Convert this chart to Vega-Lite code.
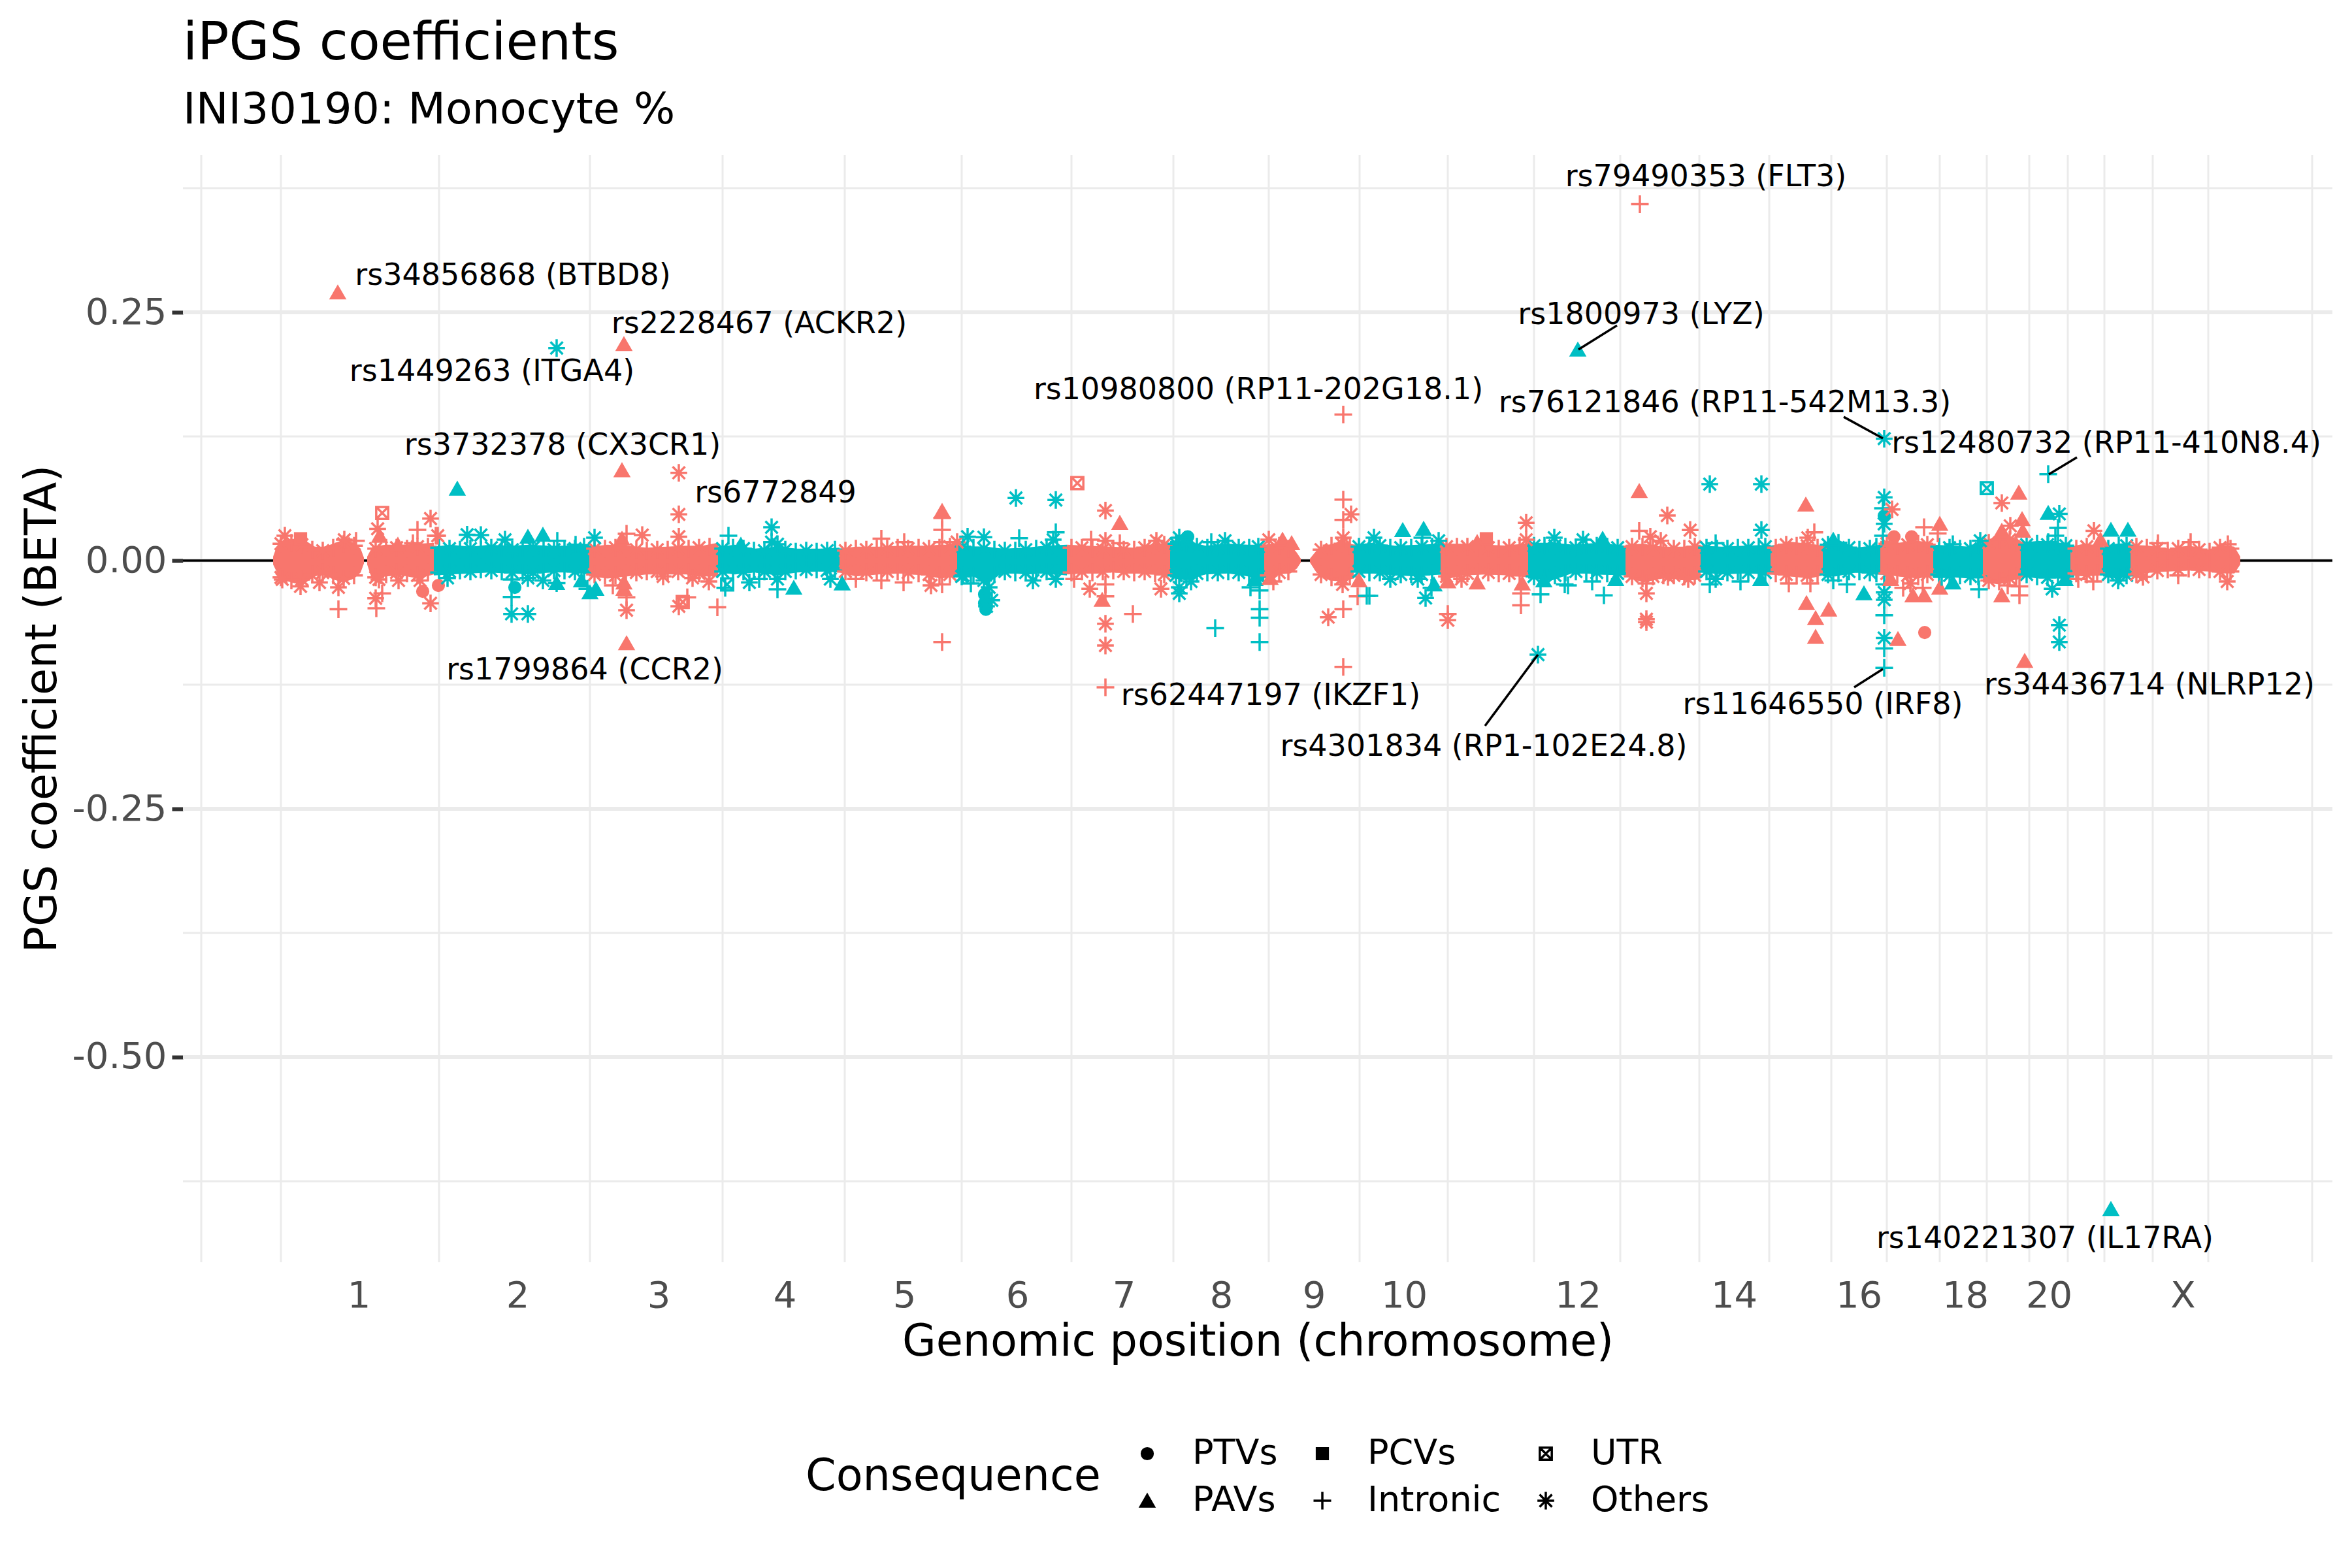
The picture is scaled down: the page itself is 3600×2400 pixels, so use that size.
{"$schema":"https://vega.github.io/schema/vega-lite/v6.json","width":3290,"height":1695,"autosize":"none","padding":{"left":280,"top":237,"right":30,"bottom":468},"background":"white",
"title":{"text":"iPGS coefficients","subtitle":"INI30190: Monocyte %","anchor":"start","frame":"group","font":"DejaVu Sans","fontSize":80,"fontWeight":"normal","color":"black","subtitleFont":"DejaVu Sans","subtitleFontSize":66.6,"subtitleColor":"black","subtitlePadding":28,"offset":32},
"config":{"view":{"stroke":null},"font":"DejaVu Sans"},
"datasets":{
"vgrid":[{"pos":308},{"pos":430},{"pos":672},{"pos":903},{"pos":1106},{"pos":1293},{"pos":1472},{"pos":1640},{"pos":1796},{"pos":1942},{"pos":2081},{"pos":2216},{"pos":2348},{"pos":2480},{"pos":2601},{"pos":2708},{"pos":2803},{"pos":2888},{"pos":2969},{"pos":3041},{"pos":3106},{"pos":3165},{"pos":3221},{"pos":3295},{"pos":3380},{"pos":3539}],
"hgrid":[{"beta":0.375,"kind":"minor"},{"beta":0.25,"kind":"major"},{"beta":0.125,"kind":"minor"},{"beta":0,"kind":"major"},{"beta":-0.125,"kind":"minor"},{"beta":-0.25,"kind":"major"},{"beta":-0.375,"kind":"minor"},{"beta":-0.5,"kind":"major"},{"beta":-0.625,"kind":"minor"}],
"band":[
{"pos":418,"hi":0.004,"lo":-0.004,"seg":"1a","grp":"a"},{"pos":424,"hi":0.015,"lo":-0.012,"seg":"1a","grp":"a"},{"pos":436,"hi":0.021,"lo":-0.02,"seg":"1a","grp":"a"},{"pos":452,"hi":0.022,"lo":-0.023,"seg":"1a","grp":"a"},{"pos":468,"hi":0.02,"lo":-0.022,"seg":"1a","grp":"a"},{"pos":482,"hi":0.014,"lo":-0.016,"seg":"1a","grp":"a"},{"pos":496,"hi":0.014,"lo":-0.014,"seg":"1a","grp":"a"},{"pos":510,"hi":0.017,"lo":-0.019,"seg":"1a","grp":"a"},{"pos":526,"hi":0.021,"lo":-0.022,"seg":"1a","grp":"a"},{"pos":542,"hi":0.018,"lo":-0.018,"seg":"1a","grp":"a"},{"pos":552,"hi":0.012,"lo":-0.012,"seg":"1a","grp":"a"},{"pos":557,"hi":0.003,"lo":-0.003,"seg":"1a","grp":"a"},
{"pos":562,"hi":0.004,"lo":-0.004,"seg":"1b","grp":"a"},{"pos":570,"hi":0.014,"lo":-0.02,"seg":"1b","grp":"a"},{"pos":590,"hi":0.016,"lo":-0.016,"seg":"1b","grp":"a"},{"pos":615,"hi":0.016,"lo":-0.015,"seg":"1b","grp":"a"},{"pos":640,"hi":0.017,"lo":-0.018,"seg":"1b","grp":"a"},{"pos":664,"hi":0.018,"lo":-0.014,"seg":"1b","grp":"a"},
{"pos":664,"hi":0.014,"lo":-0.015,"seg":"2","grp":"b"},{"pos":690,"hi":0.016,"lo":-0.014,"seg":"2","grp":"b"},{"pos":720,"hi":0.014,"lo":-0.013,"seg":"2","grp":"b"},{"pos":750,"hi":0.016,"lo":-0.012,"seg":"2","grp":"b"},{"pos":780,"hi":0.015,"lo":-0.013,"seg":"2","grp":"b"},{"pos":810,"hi":0.016,"lo":-0.014,"seg":"2","grp":"b"},{"pos":840,"hi":0.015,"lo":-0.012,"seg":"2","grp":"b"},{"pos":870,"hi":0.015,"lo":-0.012,"seg":"2","grp":"b"},{"pos":902,"hi":0.017,"lo":-0.014,"seg":"2","grp":"b"},
{"pos":902,"hi":0.014,"lo":-0.016,"seg":"3","grp":"a"},{"pos":930,"hi":0.016,"lo":-0.018,"seg":"3","grp":"a"},{"pos":960,"hi":0.015,"lo":-0.016,"seg":"3","grp":"a"},{"pos":990,"hi":0.013,"lo":-0.014,"seg":"3","grp":"a"},{"pos":1020,"hi":0.014,"lo":-0.014,"seg":"3","grp":"a"},{"pos":1050,"hi":0.015,"lo":-0.014,"seg":"3","grp":"a"},{"pos":1075,"hi":0.015,"lo":-0.016,"seg":"3","grp":"a"},{"pos":1099,"hi":0.018,"lo":-0.016,"seg":"3","grp":"a"},
{"pos":1099,"hi":0.014,"lo":-0.012,"seg":"4","grp":"b"},{"pos":1125,"hi":0.016,"lo":-0.014,"seg":"4","grp":"b"},{"pos":1155,"hi":0.012,"lo":-0.012,"seg":"4","grp":"b"},{"pos":1190,"hi":0.014,"lo":-0.015,"seg":"4","grp":"b"},{"pos":1220,"hi":0.012,"lo":-0.012,"seg":"4","grp":"b"},{"pos":1255,"hi":0.012,"lo":-0.011,"seg":"4","grp":"b"},{"pos":1285,"hi":0.013,"lo":-0.012,"seg":"4","grp":"b"},
{"pos":1285,"hi":0.012,"lo":-0.012,"seg":"5","grp":"a"},{"pos":1310,"hi":0.014,"lo":-0.016,"seg":"5","grp":"a"},{"pos":1345,"hi":0.014,"lo":-0.014,"seg":"5","grp":"a"},{"pos":1380,"hi":0.015,"lo":-0.013,"seg":"5","grp":"a"},{"pos":1415,"hi":0.015,"lo":-0.015,"seg":"5","grp":"a"},{"pos":1440,"hi":0.016,"lo":-0.018,"seg":"5","grp":"a"},{"pos":1465,"hi":0.016,"lo":-0.016,"seg":"5","grp":"a"},
{"pos":1465,"hi":0.016,"lo":-0.016,"seg":"6","grp":"b"},{"pos":1490,"hi":0.014,"lo":-0.016,"seg":"6","grp":"b"},{"pos":1510,"hi":0.014,"lo":-0.024,"seg":"6","grp":"b"},{"pos":1535,"hi":0.012,"lo":-0.012,"seg":"6","grp":"b"},{"pos":1570,"hi":0.013,"lo":-0.014,"seg":"6","grp":"b"},{"pos":1600,"hi":0.015,"lo":-0.013,"seg":"6","grp":"b"},{"pos":1633,"hi":0.016,"lo":-0.015,"seg":"6","grp":"b"},
{"pos":1633,"hi":0.016,"lo":-0.014,"seg":"7","grp":"a"},{"pos":1665,"hi":0.015,"lo":-0.013,"seg":"7","grp":"a"},{"pos":1700,"hi":0.014,"lo":-0.012,"seg":"7","grp":"a"},{"pos":1735,"hi":0.013,"lo":-0.013,"seg":"7","grp":"a"},{"pos":1765,"hi":0.016,"lo":-0.014,"seg":"7","grp":"a"},{"pos":1791,"hi":0.018,"lo":-0.016,"seg":"7","grp":"a"},
{"pos":1791,"hi":0.02,"lo":-0.017,"seg":"8","grp":"b"},{"pos":1815,"hi":0.02,"lo":-0.02,"seg":"8","grp":"b"},{"pos":1845,"hi":0.015,"lo":-0.014,"seg":"8","grp":"b"},{"pos":1880,"hi":0.017,"lo":-0.013,"seg":"8","grp":"b"},{"pos":1910,"hi":0.016,"lo":-0.016,"seg":"8","grp":"b"},{"pos":1935,"hi":0.016,"lo":-0.022,"seg":"8","grp":"b"},
{"pos":1935,"hi":0.016,"lo":-0.018,"seg":"9a","grp":"a"},{"pos":1955,"hi":0.018,"lo":-0.014,"seg":"9a","grp":"a"},{"pos":1975,"hi":0.016,"lo":-0.013,"seg":"9a","grp":"a"},{"pos":1985,"hi":0.008,"lo":-0.008,"seg":"9a","grp":"a"},{"pos":1991,"hi":0.002,"lo":-0.002,"seg":"9a","grp":"a"},
{"pos":2005,"hi":0.002,"lo":-0.002,"seg":"9b","grp":"a"},{"pos":2015,"hi":0.01,"lo":-0.012,"seg":"9b","grp":"a"},{"pos":2035,"hi":0.016,"lo":-0.02,"seg":"9b","grp":"a"},{"pos":2055,"hi":0.02,"lo":-0.021,"seg":"9b","grp":"a"},{"pos":2072,"hi":0.016,"lo":-0.018,"seg":"9b","grp":"a"},
{"pos":2072,"hi":0.016,"lo":-0.012,"seg":"10","grp":"b"},{"pos":2100,"hi":0.018,"lo":-0.013,"seg":"10","grp":"b"},{"pos":2135,"hi":0.015,"lo":-0.015,"seg":"10","grp":"b"},{"pos":2170,"hi":0.016,"lo":-0.016,"seg":"10","grp":"b"},{"pos":2205,"hi":0.017,"lo":-0.014,"seg":"10","grp":"b"},
{"pos":2205,"hi":0.017,"lo":-0.02,"seg":"11","grp":"a"},{"pos":2240,"hi":0.017,"lo":-0.015,"seg":"11","grp":"a"},{"pos":2275,"hi":0.016,"lo":-0.014,"seg":"11","grp":"a"},{"pos":2310,"hi":0.015,"lo":-0.015,"seg":"11","grp":"a"},{"pos":2339,"hi":0.018,"lo":-0.017,"seg":"11","grp":"a"},
{"pos":2339,"hi":0.018,"lo":-0.018,"seg":"12","grp":"b"},{"pos":2375,"hi":0.018,"lo":-0.02,"seg":"12","grp":"b"},{"pos":2410,"hi":0.016,"lo":-0.012,"seg":"12","grp":"b"},{"pos":2445,"hi":0.018,"lo":-0.014,"seg":"12","grp":"b"},{"pos":2488,"hi":0.015,"lo":-0.015,"seg":"12","grp":"b"},
{"pos":2488,"hi":0.016,"lo":-0.016,"seg":"13","grp":"a"},{"pos":2515,"hi":0.017,"lo":-0.022,"seg":"13","grp":"a"},{"pos":2545,"hi":0.014,"lo":-0.018,"seg":"13","grp":"a"},{"pos":2575,"hi":0.014,"lo":-0.019,"seg":"13","grp":"a"},{"pos":2603,"hi":0.016,"lo":-0.018,"seg":"13","grp":"a"},
{"pos":2603,"hi":0.015,"lo":-0.012,"seg":"14","grp":"b"},{"pos":2635,"hi":0.014,"lo":-0.014,"seg":"14","grp":"b"},{"pos":2670,"hi":0.015,"lo":-0.013,"seg":"14","grp":"b"},{"pos":2710,"hi":0.016,"lo":-0.014,"seg":"14","grp":"b"},
{"pos":2710,"hi":0.015,"lo":-0.014,"seg":"15","grp":"a"},{"pos":2740,"hi":0.019,"lo":-0.016,"seg":"15","grp":"a"},{"pos":2770,"hi":0.017,"lo":-0.018,"seg":"15","grp":"a"},{"pos":2790,"hi":0.015,"lo":-0.015,"seg":"15","grp":"a"},
{"pos":2790,"hi":0.018,"lo":-0.016,"seg":"16","grp":"b"},{"pos":2810,"hi":0.022,"lo":-0.016,"seg":"16","grp":"b"},{"pos":2840,"hi":0.013,"lo":-0.012,"seg":"16","grp":"b"},{"pos":2878,"hi":0.016,"lo":-0.014,"seg":"16","grp":"b"},
{"pos":2878,"hi":0.02,"lo":-0.014,"seg":"17","grp":"a"},{"pos":2905,"hi":0.018,"lo":-0.016,"seg":"17","grp":"a"},{"pos":2935,"hi":0.02,"lo":-0.018,"seg":"17","grp":"a"},{"pos":2959,"hi":0.018,"lo":-0.016,"seg":"17","grp":"a"},
{"pos":2959,"hi":0.016,"lo":-0.016,"seg":"18","grp":"b"},{"pos":2990,"hi":0.015,"lo":-0.017,"seg":"18","grp":"b"},{"pos":3015,"hi":0.014,"lo":-0.018,"seg":"18","grp":"b"},{"pos":3035,"hi":0.017,"lo":-0.018,"seg":"18","grp":"b"},
{"pos":3035,"hi":0.02,"lo":-0.022,"seg":"19","grp":"a"},{"pos":3060,"hi":0.024,"lo":-0.024,"seg":"19","grp":"a"},{"pos":3080,"hi":0.024,"lo":-0.02,"seg":"19","grp":"a"},{"pos":3093,"hi":0.02,"lo":-0.018,"seg":"19","grp":"a"},
{"pos":3093,"hi":0.018,"lo":-0.016,"seg":"20","grp":"b"},{"pos":3120,"hi":0.02,"lo":-0.018,"seg":"20","grp":"b"},{"pos":3150,"hi":0.018,"lo":-0.018,"seg":"20","grp":"b"},{"pos":3169,"hi":0.018,"lo":-0.019,"seg":"20","grp":"b"},
{"pos":3169,"hi":0.014,"lo":-0.015,"seg":"21","grp":"a"},{"pos":3190,"hi":0.017,"lo":-0.016,"seg":"21","grp":"a"},{"pos":3219,"hi":0.015,"lo":-0.015,"seg":"21","grp":"a"},
{"pos":3219,"hi":0.014,"lo":-0.016,"seg":"22","grp":"b"},{"pos":3240,"hi":0.017,"lo":-0.018,"seg":"22","grp":"b"},{"pos":3261,"hi":0.018,"lo":-0.016,"seg":"22","grp":"b"},
{"pos":3261,"hi":0.016,"lo":-0.016,"seg":"X","grp":"a"},{"pos":3290,"hi":0.015,"lo":-0.012,"seg":"X","grp":"a"},{"pos":3320,"hi":0.012,"lo":-0.011,"seg":"X","grp":"a"},{"pos":3350,"hi":0.015,"lo":-0.01,"seg":"X","grp":"a"},{"pos":3380,"hi":0.011,"lo":-0.011,"seg":"X","grp":"a"},{"pos":3400,"hi":0.016,"lo":-0.013,"seg":"X","grp":"a"},{"pos":3420,"hi":0.014,"lo":-0.013,"seg":"X","grp":"a"},{"pos":3429,"hi":0.004,"lo":-0.004,"seg":"X","grp":"a"}],
"edge":[
{"pos":430,"up":0.017,"dn":-0.017,"grp":"a","cons":"Others"},{"pos":446,"up":0.018,"dn":-0.02,"grp":"a","cons":"Intronic"},{"pos":462,"up":0.016,"dn":-0.019,"grp":"a","cons":"Others"},{"pos":478,"up":0.011,"dn":-0.014,"grp":"a","cons":"Intronic"},{"pos":494,"up":0.01,"dn":-0.012,"grp":"a","cons":"Others"},{"pos":510,"up":0.013,"dn":-0.015,"grp":"a","cons":"Intronic"},{"pos":526,"up":0.017,"dn":-0.018,"grp":"a","cons":"Others"},{"pos":542,"up":0.015,"dn":-0.015,"grp":"a","cons":"Intronic"},
{"pos":575,"up":0.012,"dn":-0.017,"grp":"a","cons":"Others"},{"pos":591,"up":0.013,"dn":-0.014,"grp":"a","cons":"Intronic"},{"pos":607,"up":0.013,"dn":-0.012,"grp":"a","cons":"Others"},{"pos":623,"up":0.012,"dn":-0.013,"grp":"a","cons":"Intronic"},{"pos":639,"up":0.014,"dn":-0.015,"grp":"a","cons":"Others"},{"pos":655,"up":0.014,"dn":-0.012,"grp":"a","cons":"Intronic"},
{"pos":672,"up":0.013,"dn":-0.012,"grp":"b","cons":"Intronic"},{"pos":688,"up":0.012,"dn":-0.011,"grp":"b","cons":"Others"},{"pos":704,"up":0.011,"dn":-0.01,"grp":"b","cons":"Intronic"},{"pos":720,"up":0.012,"dn":-0.011,"grp":"b","cons":"Others"},{"pos":736,"up":0.011,"dn":-0.009,"grp":"b","cons":"Intronic"},{"pos":752,"up":0.013,"dn":-0.01,"grp":"b","cons":"Others"},{"pos":768,"up":0.012,"dn":-0.011,"grp":"b","cons":"Intronic"},{"pos":784,"up":0.011,"dn":-0.012,"grp":"b","cons":"Others"},{"pos":800,"up":0.012,"dn":-0.012,"grp":"b","cons":"Intronic"},{"pos":816,"up":0.013,"dn":-0.012,"grp":"b","cons":"Others"},{"pos":832,"up":0.012,"dn":-0.011,"grp":"b","cons":"Intronic"},{"pos":848,"up":0.011,"dn":-0.01,"grp":"b","cons":"Others"},{"pos":864,"up":0.012,"dn":-0.01,"grp":"b","cons":"Intronic"},{"pos":880,"up":0.012,"dn":-0.011,"grp":"b","cons":"Others"},{"pos":894,"up":0.014,"dn":-0.012,"grp":"b","cons":"Intronic"},
{"pos":910,"up":0.012,"dn":-0.014,"grp":"a","cons":"Others"},{"pos":926,"up":0.012,"dn":-0.015,"grp":"a","cons":"Intronic"},{"pos":942,"up":0.013,"dn":-0.015,"grp":"a","cons":"Others"},{"pos":958,"up":0.012,"dn":-0.013,"grp":"a","cons":"Intronic"},{"pos":974,"up":0.011,"dn":-0.012,"grp":"a","cons":"Others"},{"pos":990,"up":0.01,"dn":-0.011,"grp":"a","cons":"Intronic"},{"pos":1006,"up":0.011,"dn":-0.011,"grp":"a","cons":"Others"},{"pos":1022,"up":0.011,"dn":-0.012,"grp":"a","cons":"Intronic"},{"pos":1038,"up":0.012,"dn":-0.011,"grp":"a","cons":"Others"},{"pos":1054,"up":0.012,"dn":-0.012,"grp":"a","cons":"Intronic"},{"pos":1070,"up":0.013,"dn":-0.013,"grp":"a","cons":"Others"},{"pos":1086,"up":0.014,"dn":-0.014,"grp":"a","cons":"Intronic"},
{"pos":1106,"up":0.012,"dn":-0.011,"grp":"b","cons":"Others"},{"pos":1122,"up":0.013,"dn":-0.012,"grp":"b","cons":"Intronic"},{"pos":1138,"up":0.012,"dn":-0.011,"grp":"b","cons":"Others"},{"pos":1154,"up":0.01,"dn":-0.01,"grp":"b","cons":"Intronic"},{"pos":1170,"up":0.01,"dn":-0.011,"grp":"b","cons":"Others"},{"pos":1186,"up":0.012,"dn":-0.012,"grp":"b","cons":"Intronic"},{"pos":1202,"up":0.011,"dn":-0.011,"grp":"b","cons":"Others"},{"pos":1218,"up":0.009,"dn":-0.01,"grp":"b","cons":"Intronic"},{"pos":1234,"up":0.01,"dn":-0.009,"grp":"b","cons":"Others"},{"pos":1250,"up":0.009,"dn":-0.009,"grp":"b","cons":"Intronic"},{"pos":1266,"up":0.01,"dn":-0.01,"grp":"b","cons":"Others"},{"pos":1278,"up":0.011,"dn":-0.01,"grp":"b","cons":"Intronic"},
{"pos":1294,"up":0.01,"dn":-0.011,"grp":"a","cons":"Others"},{"pos":1310,"up":0.012,"dn":-0.013,"grp":"a","cons":"Intronic"},{"pos":1326,"up":0.011,"dn":-0.012,"grp":"a","cons":"Others"},{"pos":1342,"up":0.012,"dn":-0.012,"grp":"a","cons":"Intronic"},{"pos":1358,"up":0.012,"dn":-0.011,"grp":"a","cons":"Others"},{"pos":1374,"up":0.013,"dn":-0.011,"grp":"a","cons":"Intronic"},{"pos":1390,"up":0.012,"dn":-0.012,"grp":"a","cons":"Others"},{"pos":1406,"up":0.013,"dn":-0.013,"grp":"a","cons":"Intronic"},{"pos":1422,"up":0.012,"dn":-0.014,"grp":"a","cons":"Others"},{"pos":1438,"up":0.013,"dn":-0.015,"grp":"a","cons":"Intronic"},{"pos":1454,"up":0.014,"dn":-0.014,"grp":"a","cons":"Others"},
{"pos":1474,"up":0.014,"dn":-0.015,"grp":"b","cons":"Others"},{"pos":1490,"up":0.013,"dn":-0.015,"grp":"b","cons":"Intronic"},{"pos":1506,"up":0.012,"dn":-0.02,"grp":"b","cons":"Others"},{"pos":1522,"up":0.011,"dn":-0.014,"grp":"b","cons":"Intronic"},{"pos":1538,"up":0.01,"dn":-0.011,"grp":"b","cons":"Others"},{"pos":1554,"up":0.01,"dn":-0.012,"grp":"b","cons":"Intronic"},{"pos":1570,"up":0.011,"dn":-0.012,"grp":"b","cons":"Others"},{"pos":1586,"up":0.012,"dn":-0.012,"grp":"b","cons":"Intronic"},{"pos":1602,"up":0.013,"dn":-0.011,"grp":"b","cons":"Others"},{"pos":1618,"up":0.013,"dn":-0.013,"grp":"b","cons":"Intronic"},
{"pos":1640,"up":0.013,"dn":-0.012,"grp":"a","cons":"Intronic"},{"pos":1656,"up":0.013,"dn":-0.011,"grp":"a","cons":"Others"},{"pos":1672,"up":0.012,"dn":-0.012,"grp":"a","cons":"Intronic"},{"pos":1688,"up":0.011,"dn":-0.011,"grp":"a","cons":"Others"},{"pos":1704,"up":0.012,"dn":-0.01,"grp":"a","cons":"Intronic"},{"pos":1720,"up":0.011,"dn":-0.011,"grp":"a","cons":"Others"},{"pos":1736,"up":0.011,"dn":-0.012,"grp":"a","cons":"Intronic"},{"pos":1752,"up":0.013,"dn":-0.011,"grp":"a","cons":"Others"},{"pos":1768,"up":0.015,"dn":-0.013,"grp":"a","cons":"Intronic"},{"pos":1782,"up":0.016,"dn":-0.014,"grp":"a","cons":"Others"},
{"pos":1800,"up":0.017,"dn":-0.015,"grp":"b","cons":"Others"},{"pos":1816,"up":0.017,"dn":-0.017,"grp":"b","cons":"Intronic"},{"pos":1832,"up":0.014,"dn":-0.013,"grp":"b","cons":"Others"},{"pos":1848,"up":0.013,"dn":-0.012,"grp":"b","cons":"Intronic"},{"pos":1864,"up":0.013,"dn":-0.012,"grp":"b","cons":"Others"},{"pos":1880,"up":0.014,"dn":-0.011,"grp":"b","cons":"Intronic"},{"pos":1896,"up":0.013,"dn":-0.012,"grp":"b","cons":"Others"},{"pos":1912,"up":0.013,"dn":-0.014,"grp":"b","cons":"Intronic"},{"pos":1926,"up":0.014,"dn":-0.016,"grp":"b","cons":"Others"},
{"pos":1942,"up":0.014,"dn":-0.015,"grp":"a","cons":"Intronic"},{"pos":1958,"up":0.015,"dn":-0.012,"grp":"a","cons":"Others"},{"pos":1972,"up":0.012,"dn":-0.011,"grp":"a","cons":"Intronic"},
{"pos":2022,"up":0.011,"dn":-0.014,"grp":"a","cons":"Others"},{"pos":2038,"up":0.015,"dn":-0.017,"grp":"a","cons":"Intronic"},{"pos":2054,"up":0.017,"dn":-0.018,"grp":"a","cons":"Others"},{"pos":2066,"up":0.015,"dn":-0.016,"grp":"a","cons":"Intronic"},
{"pos":2080,"up":0.014,"dn":-0.011,"grp":"b","cons":"Others"},{"pos":2096,"up":0.015,"dn":-0.012,"grp":"b","cons":"Intronic"},{"pos":2112,"up":0.015,"dn":-0.012,"grp":"b","cons":"Others"},{"pos":2128,"up":0.013,"dn":-0.013,"grp":"b","cons":"Intronic"},{"pos":2144,"up":0.013,"dn":-0.014,"grp":"b","cons":"Others"},{"pos":2160,"up":0.013,"dn":-0.014,"grp":"b","cons":"Intronic"},{"pos":2176,"up":0.014,"dn":-0.014,"grp":"b","cons":"Others"},{"pos":2192,"up":0.014,"dn":-0.013,"grp":"b","cons":"Intronic"},
{"pos":2214,"up":0.014,"dn":-0.016,"grp":"a","cons":"Others"},{"pos":2230,"up":0.014,"dn":-0.014,"grp":"a","cons":"Intronic"},{"pos":2246,"up":0.014,"dn":-0.013,"grp":"a","cons":"Others"},{"pos":2262,"up":0.013,"dn":-0.012,"grp":"a","cons":"Intronic"},{"pos":2278,"up":0.013,"dn":-0.012,"grp":"a","cons":"Others"},{"pos":2294,"up":0.012,"dn":-0.013,"grp":"a","cons":"Intronic"},{"pos":2310,"up":0.013,"dn":-0.013,"grp":"a","cons":"Others"},{"pos":2326,"up":0.015,"dn":-0.015,"grp":"a","cons":"Intronic"},
{"pos":2348,"up":0.015,"dn":-0.016,"grp":"b","cons":"Others"},{"pos":2364,"up":0.015,"dn":-0.017,"grp":"b","cons":"Intronic"},{"pos":2380,"up":0.015,"dn":-0.015,"grp":"b","cons":"Others"},{"pos":2396,"up":0.014,"dn":-0.012,"grp":"b","cons":"Intronic"},{"pos":2412,"up":0.013,"dn":-0.011,"grp":"b","cons":"Others"},{"pos":2428,"up":0.015,"dn":-0.012,"grp":"b","cons":"Intronic"},{"pos":2444,"up":0.015,"dn":-0.012,"grp":"b","cons":"Others"},{"pos":2460,"up":0.014,"dn":-0.013,"grp":"b","cons":"Intronic"},{"pos":2476,"up":0.013,"dn":-0.013,"grp":"b","cons":"Others"},
{"pos":2498,"up":0.014,"dn":-0.016,"grp":"a","cons":"Others"},{"pos":2514,"up":0.014,"dn":-0.018,"grp":"a","cons":"Intronic"},{"pos":2530,"up":0.013,"dn":-0.016,"grp":"a","cons":"Others"},{"pos":2546,"up":0.012,"dn":-0.015,"grp":"a","cons":"Intronic"},{"pos":2562,"up":0.012,"dn":-0.015,"grp":"a","cons":"Others"},{"pos":2578,"up":0.012,"dn":-0.016,"grp":"a","cons":"Intronic"},{"pos":2594,"up":0.014,"dn":-0.015,"grp":"a","cons":"Others"},
{"pos":2612,"up":0.013,"dn":-0.011,"grp":"b","cons":"Others"},{"pos":2628,"up":0.012,"dn":-0.012,"grp":"b","cons":"Intronic"},{"pos":2644,"up":0.012,"dn":-0.012,"grp":"b","cons":"Others"},{"pos":2660,"up":0.013,"dn":-0.011,"grp":"b","cons":"Intronic"},{"pos":2676,"up":0.013,"dn":-0.012,"grp":"b","cons":"Others"},{"pos":2692,"up":0.014,"dn":-0.012,"grp":"b","cons":"Intronic"},{"pos":2702,"up":0.014,"dn":-0.012,"grp":"b","cons":"Others"},
{"pos":2718,"up":0.013,"dn":-0.013,"grp":"a","cons":"Intronic"},{"pos":2734,"up":0.016,"dn":-0.014,"grp":"a","cons":"Others"},{"pos":2750,"up":0.015,"dn":-0.015,"grp":"a","cons":"Intronic"},{"pos":2766,"up":0.015,"dn":-0.015,"grp":"a","cons":"Others"},{"pos":2782,"up":0.013,"dn":-0.014,"grp":"a","cons":"Intronic"},
{"pos":2798,"up":0.016,"dn":-0.014,"grp":"b","cons":"Others"},{"pos":2814,"up":0.018,"dn":-0.013,"grp":"b","cons":"Intronic"},{"pos":2830,"up":0.013,"dn":-0.011,"grp":"b","cons":"Others"},{"pos":2846,"up":0.011,"dn":-0.011,"grp":"b","cons":"Intronic"},{"pos":2862,"up":0.012,"dn":-0.012,"grp":"b","cons":"Others"},{"pos":2872,"up":0.014,"dn":-0.013,"grp":"b","cons":"Intronic"},
{"pos":2888,"up":0.017,"dn":-0.013,"grp":"a","cons":"Others"},{"pos":2904,"up":0.015,"dn":-0.014,"grp":"a","cons":"Intronic"},{"pos":2920,"up":0.016,"dn":-0.015,"grp":"a","cons":"Others"},{"pos":2936,"up":0.017,"dn":-0.016,"grp":"a","cons":"Intronic"},{"pos":2950,"up":0.016,"dn":-0.014,"grp":"a","cons":"Others"},
{"pos":2968,"up":0.014,"dn":-0.014,"grp":"b","cons":"Intronic"},{"pos":2984,"up":0.013,"dn":-0.015,"grp":"b","cons":"Others"},{"pos":3000,"up":0.012,"dn":-0.015,"grp":"b","cons":"Intronic"},{"pos":3016,"up":0.012,"dn":-0.016,"grp":"b","cons":"Others"},{"pos":3028,"up":0.015,"dn":-0.016,"grp":"b","cons":"Intronic"},
{"pos":3044,"up":0.018,"dn":-0.02,"grp":"a","cons":"Others"},{"pos":3060,"up":0.021,"dn":-0.021,"grp":"a","cons":"Intronic"},{"pos":3076,"up":0.021,"dn":-0.018,"grp":"a","cons":"Others"},{"pos":3086,"up":0.018,"dn":-0.016,"grp":"a","cons":"Intronic"},
{"pos":3102,"up":0.016,"dn":-0.014,"grp":"b","cons":"Others"},{"pos":3118,"up":0.017,"dn":-0.016,"grp":"b","cons":"Intronic"},{"pos":3134,"up":0.016,"dn":-0.017,"grp":"b","cons":"Others"},{"pos":3150,"up":0.015,"dn":-0.016,"grp":"b","cons":"Intronic"},{"pos":3162,"up":0.015,"dn":-0.016,"grp":"b","cons":"Others"},
{"pos":3178,"up":0.012,"dn":-0.013,"grp":"a","cons":"Intronic"},{"pos":3194,"up":0.014,"dn":-0.014,"grp":"a","cons":"Others"},{"pos":3210,"up":0.013,"dn":-0.013,"grp":"a","cons":"Intronic"},
{"pos":3227,"up":0.012,"dn":-0.014,"grp":"b","cons":"Others"},{"pos":3243,"up":0.015,"dn":-0.016,"grp":"b","cons":"Intronic"},{"pos":3255,"up":0.015,"dn":-0.015,"grp":"b","cons":"Others"},
{"pos":3270,"up":0.014,"dn":-0.014,"grp":"a","cons":"Others"},{"pos":3286,"up":0.013,"dn":-0.011,"grp":"a","cons":"Intronic"},{"pos":3302,"up":0.012,"dn":-0.01,"grp":"a","cons":"Others"},{"pos":3318,"up":0.01,"dn":-0.009,"grp":"a","cons":"Intronic"},{"pos":3334,"up":0.012,"dn":-0.009,"grp":"a","cons":"Others"},{"pos":3350,"up":0.013,"dn":-0.008,"grp":"a","cons":"Intronic"},{"pos":3366,"up":0.011,"dn":-0.009,"grp":"a","cons":"Others"},{"pos":3382,"up":0.009,"dn":-0.009,"grp":"a","cons":"Intronic"},{"pos":3398,"up":0.013,"dn":-0.011,"grp":"a","cons":"Others"},{"pos":3414,"up":0.012,"dn":-0.011,"grp":"a","cons":"Intronic"}],
"pts":[
{"pos":517,"beta":0.27,"cons":"PAVs","grp":"a"},{"pos":955,"beta":0.218,"cons":"PAVs","grp":"a"},{"pos":952,"beta":0.091,"cons":"PAVs","grp":"a"},{"pos":1039,"beta":0.0884,"cons":"Others","grp":"a"},{"pos":1039,"beta":0.0465,"cons":"Others","grp":"a"},{"pos":585,"beta":0.048,"cons":"UTR","grp":"a"},{"pos":659,"beta":0.0423,"cons":"Others","grp":"a"},{"pos":578,"beta":0.032,"cons":"Others","grp":"a"},{"pos":581,"beta":0.025,"cons":"PAVs","grp":"a"},{"pos":639,"beta":0.031,"cons":"Intronic","grp":"a"},{"pos":667,"beta":0.025,"cons":"Intronic","grp":"a"},{"pos":670,"beta":0.025,"cons":"Others","grp":"a"},{"pos":609,"beta":0.016,"cons":"PAVs","grp":"a"},{"pos":632,"beta":0.0175,"cons":"Intronic","grp":"a"},{"pos":436,"beta":0.025,"cons":"Others","grp":"a"},{"pos":460,"beta":0.022,"cons":"PCVs","grp":"a"},{"pos":545,"beta":0.02,"cons":"Intronic","grp":"a"},{"pos":527,"beta":0.021,"cons":"Others","grp":"a"},{"pos":518,"beta":-0.049,"cons":"Intronic","grp":"a"},{"pos":518,"beta":-0.027,"cons":"Others","grp":"a"},{"pos":576,"beta":-0.048,"cons":"Intronic","grp":"a"},{"pos":575,"beta":-0.038,"cons":"Others","grp":"a"},{"pos":585,"beta":-0.033,"cons":"Intronic","grp":"a"},{"pos":580,"beta":-0.019,"cons":"Others","grp":"a"},{"pos":610,"beta":-0.02,"cons":"Others","grp":"a"},{"pos":647,"beta":-0.031,"cons":"PTVs","grp":"a"},{"pos":671,"beta":-0.025,"cons":"PTVs","grp":"a"},{"pos":659,"beta":-0.043,"cons":"Others","grp":"a"},{"pos":643,"beta":-0.02,"cons":"Others","grp":"a"},{"pos":460,"beta":-0.026,"cons":"Others","grp":"a"},{"pos":489,"beta":-0.022,"cons":"Others","grp":"a"},{"pos":432,"beta":-0.019,"cons":"Others","grp":"a"},
{"pos":700,"beta":0.0724,"cons":"PAVs","grp":"b"},{"pos":852,"beta":0.214,"cons":"Others","grp":"b"},{"pos":715,"beta":0.026,"cons":"Others","grp":"b"},{"pos":736,"beta":0.0257,"cons":"Others","grp":"b"},{"pos":773,"beta":0.021,"cons":"Others","grp":"b"},{"pos":808,"beta":0.024,"cons":"PAVs","grp":"b"},{"pos":831,"beta":0.026,"cons":"PAVs","grp":"b"},{"pos":853,"beta":0.02,"cons":"Intronic","grp":"b"},{"pos":910,"beta":0.023,"cons":"Others","grp":"b"},{"pos":881,"beta":0.016,"cons":"Intronic","grp":"b"},{"pos":783,"beta":-0.0366,"cons":"Intronic","grp":"b"},{"pos":783,"beta":-0.0537,"cons":"Others","grp":"b"},{"pos":808,"beta":-0.0537,"cons":"Others","grp":"b"},{"pos":788,"beta":-0.027,"cons":"PTVs","grp":"b"},{"pos":783,"beta":-0.019,"cons":"Intronic","grp":"b"},{"pos":808,"beta":-0.0175,"cons":"Others","grp":"b"},{"pos":831,"beta":-0.02,"cons":"Others","grp":"b"},{"pos":852,"beta":-0.0226,"cons":"PAVs","grp":"b"},{"pos":852,"beta":-0.0226,"cons":"Intronic","grp":"b"},{"pos":890,"beta":-0.02,"cons":"PAVs","grp":"b"},{"pos":903,"beta":-0.032,"cons":"PAVs","grp":"b"},{"pos":912,"beta":-0.0285,"cons":"PAVs","grp":"b"},{"pos":899,"beta":-0.0285,"cons":"Intronic","grp":"b"},{"pos":685,"beta":-0.0175,"cons":"Others","grp":"b"},
{"pos":959,"beta":0.027,"cons":"Intronic","grp":"a"},{"pos":983,"beta":0.0257,"cons":"Others","grp":"a"},{"pos":952,"beta":0.022,"cons":"PAVs","grp":"a"},{"pos":1039,"beta":0.024,"cons":"Others","grp":"a"},{"pos":959,"beta":-0.0833,"cons":"PAVs","grp":"a"},{"pos":959,"beta":-0.05,"cons":"Others","grp":"a"},{"pos":959,"beta":-0.037,"cons":"Intronic","grp":"a"},{"pos":955,"beta":-0.0285,"cons":"PAVs","grp":"a"},{"pos":955,"beta":-0.022,"cons":"PAVs","grp":"a"},{"pos":938,"beta":-0.025,"cons":"Intronic","grp":"a"},{"pos":1039,"beta":-0.046,"cons":"Others","grp":"a"},{"pos":1052,"beta":-0.037,"cons":"Intronic","grp":"a"},{"pos":1045,"beta":-0.0417,"cons":"UTR","grp":"a"},{"pos":1098,"beta":-0.047,"cons":"Intronic","grp":"a"},{"pos":1085,"beta":-0.021,"cons":"Others","grp":"a"},{"pos":1015,"beta":-0.016,"cons":"Others","grp":"a"},{"pos":1060,"beta":-0.0175,"cons":"Others","grp":"a"},
{"pos":1115,"beta":0.025,"cons":"Intronic","grp":"b"},{"pos":1181,"beta":0.0335,"cons":"Others","grp":"b"},{"pos":1181,"beta":0.0186,"cons":"Others","grp":"b"},{"pos":1134,"beta":0.016,"cons":"PAVs","grp":"b"},{"pos":1190,"beta":0.0165,"cons":"Others","grp":"b"},{"pos":1113,"beta":-0.024,"cons":"UTR","grp":"b"},{"pos":1110,"beta":-0.0274,"cons":"Intronic","grp":"b"},{"pos":1147,"beta":-0.022,"cons":"Others","grp":"b"},{"pos":1190,"beta":-0.029,"cons":"Intronic","grp":"b"},{"pos":1215,"beta":-0.0274,"cons":"PAVs","grp":"b"},{"pos":1162,"beta":-0.0186,"cons":"Intronic","grp":"b"},{"pos":1289,"beta":-0.023,"cons":"PAVs","grp":"b"},{"pos":1271,"beta":-0.0186,"cons":"Others","grp":"b"},{"pos":1190,"beta":-0.0186,"cons":"Others","grp":"b"},
{"pos":1349,"beta":0.022,"cons":"Intronic","grp":"a"},{"pos":1384,"beta":0.0186,"cons":"Intronic","grp":"a"},{"pos":1442,"beta":0.05,"cons":"PAVs","grp":"a"},{"pos":1442,"beta":0.043,"cons":"Intronic","grp":"a"},{"pos":1442,"beta":0.031,"cons":"Intronic","grp":"a"},{"pos":1442,"beta":0.0186,"cons":"Intronic","grp":"a"},{"pos":1465,"beta":0.0186,"cons":"Others","grp":"a"},{"pos":1349,"beta":-0.02,"cons":"Intronic","grp":"a"},{"pos":1383,"beta":-0.022,"cons":"Intronic","grp":"a"},{"pos":1442,"beta":-0.082,"cons":"Intronic","grp":"a"},{"pos":1425,"beta":-0.025,"cons":"Others","grp":"a"},{"pos":1442,"beta":-0.024,"cons":"Intronic","grp":"a"},{"pos":1310,"beta":-0.0186,"cons":"Intronic","grp":"a"},
{"pos":1481,"beta":0.024,"cons":"Others","grp":"b"},{"pos":1506,"beta":0.0235,"cons":"Others","grp":"b"},{"pos":1555,"beta":0.063,"cons":"Others","grp":"b"},{"pos":1616,"beta":0.061,"cons":"Others","grp":"b"},{"pos":1616,"beta":0.0285,"cons":"Intronic","grp":"b"},{"pos":1560,"beta":0.0226,"cons":"Intronic","grp":"b"},{"pos":1612,"beta":0.021,"cons":"Others","grp":"b"},{"pos":1510,"beta":-0.046,"cons":"Others","grp":"b"},{"pos":1518,"beta":-0.04,"cons":"Others","grp":"b"},{"pos":1507,"beta":-0.034,"cons":"PTVs","grp":"b"},{"pos":1514,"beta":-0.027,"cons":"Others","grp":"b"},{"pos":1507,"beta":-0.043,"cons":"PTVs","grp":"b"},{"pos":1509,"beta":-0.049,"cons":"PTVs","grp":"b"},{"pos":1486,"beta":-0.023,"cons":"Intronic","grp":"b"},{"pos":1472,"beta":-0.016,"cons":"Others","grp":"b"},{"pos":1581,"beta":-0.02,"cons":"Others","grp":"b"},{"pos":1616,"beta":-0.0186,"cons":"Others","grp":"b"},
{"pos":1692,"beta":0.0504,"cons":"Others","grp":"a"},{"pos":1714,"beta":0.038,"cons":"PAVs","grp":"a"},{"pos":1649,"beta":0.078,"cons":"UTR","grp":"a"},{"pos":1670,"beta":0.021,"cons":"Intronic","grp":"a"},{"pos":1692,"beta":0.02,"cons":"Others","grp":"a"},{"pos":1714,"beta":0.0175,"cons":"Intronic","grp":"a"},{"pos":1770,"beta":0.02,"cons":"Others","grp":"a"},{"pos":1692,"beta":-0.1276,"cons":"Intronic","grp":"a"},{"pos":1692,"beta":-0.0855,"cons":"Others","grp":"a"},{"pos":1692,"beta":-0.0636,"cons":"Others","grp":"a"},{"pos":1734,"beta":-0.0537,"cons":"Intronic","grp":"a"},{"pos":1687,"beta":-0.0395,"cons":"PAVs","grp":"a"},{"pos":1692,"beta":-0.036,"cons":"Intronic","grp":"a"},{"pos":1692,"beta":-0.024,"cons":"Intronic","grp":"a"},{"pos":1668,"beta":-0.0285,"cons":"Others","grp":"a"},{"pos":1777,"beta":-0.0285,"cons":"Others","grp":"a"},{"pos":1644,"beta":-0.0186,"cons":"Intronic","grp":"a"},
{"pos":1818,"beta":0.024,"cons":"PTVs","grp":"b"},{"pos":1805,"beta":0.023,"cons":"Others","grp":"b"},{"pos":1875,"beta":0.02,"cons":"Others","grp":"b"},{"pos":1854,"beta":0.0186,"cons":"Intronic","grp":"b"},{"pos":1860,"beta":-0.068,"cons":"Intronic","grp":"b"},{"pos":1928,"beta":-0.082,"cons":"Intronic","grp":"b"},{"pos":1928,"beta":-0.0575,"cons":"Intronic","grp":"b"},{"pos":1928,"beta":-0.049,"cons":"Intronic","grp":"b"},{"pos":1928,"beta":-0.03,"cons":"Intronic","grp":"b"},{"pos":1914,"beta":-0.027,"cons":"Intronic","grp":"b"},{"pos":1805,"beta":-0.033,"cons":"Others","grp":"b"},{"pos":1805,"beta":-0.027,"cons":"Others","grp":"b"},{"pos":1823,"beta":-0.021,"cons":"Others","grp":"b"},{"pos":1921,"beta":-0.0186,"cons":"PAVs","grp":"b"},
{"pos":2056,"beta":0.147,"cons":"Intronic","grp":"a"},{"pos":2056,"beta":0.0614,"cons":"Intronic","grp":"a"},{"pos":2056,"beta":0.041,"cons":"Intronic","grp":"a"},{"pos":2068,"beta":0.0465,"cons":"Others","grp":"a"},{"pos":2056,"beta":0.023,"cons":"Others","grp":"a"},{"pos":1963,"beta":0.021,"cons":"PAVs","grp":"a"},{"pos":1942,"beta":0.021,"cons":"Others","grp":"a"},{"pos":1977,"beta":0.0175,"cons":"PAVs","grp":"a"},{"pos":2056,"beta":-0.107,"cons":"Intronic","grp":"a"},{"pos":2033,"beta":-0.057,"cons":"Others","grp":"a"},{"pos":2056,"beta":-0.049,"cons":"Intronic","grp":"a"},{"pos":2055,"beta":-0.024,"cons":"Others","grp":"a"},{"pos":1949,"beta":-0.021,"cons":"Intronic","grp":"a"},{"pos":1944,"beta":-0.0175,"cons":"PAVs","grp":"a"},{"pos":2078,"beta":-0.036,"cons":"Intronic","grp":"a"},{"pos":2080,"beta":-0.02,"cons":"PAVs","grp":"a"},
{"pos":2147,"beta":0.0307,"cons":"PAVs","grp":"b"},{"pos":2179,"beta":0.032,"cons":"PAVs","grp":"b"},{"pos":2103,"beta":0.023,"cons":"Others","grp":"b"},{"pos":2202,"beta":0.02,"cons":"Others","grp":"b"},{"pos":2177,"beta":0.023,"cons":"Intronic","grp":"b"},{"pos":2092,"beta":-0.0355,"cons":"Intronic","grp":"b"},{"pos":2096,"beta":-0.0355,"cons":"Intronic","grp":"b"},{"pos":2182,"beta":-0.0377,"cons":"Others","grp":"b"},{"pos":2191,"beta":-0.0274,"cons":"Intronic","grp":"b"},{"pos":2195,"beta":-0.024,"cons":"PAVs","grp":"b"},{"pos":2170,"beta":-0.0186,"cons":"Others","grp":"b"},{"pos":2128,"beta":-0.0186,"cons":"Others","grp":"b"},
{"pos":2216,"beta":-0.0537,"cons":"Intronic","grp":"a"},{"pos":2216,"beta":-0.06,"cons":"Others","grp":"a"},{"pos":2275,"beta":0.022,"cons":"PCVs","grp":"a"},{"pos":2261,"beta":0.0186,"cons":"PAVs","grp":"a"},{"pos":2336,"beta":0.038,"cons":"Others","grp":"a"},{"pos":2336,"beta":0.021,"cons":"Others","grp":"a"},{"pos":2261,"beta":-0.022,"cons":"PAVs","grp":"a"},{"pos":2237,"beta":-0.0186,"cons":"Others","grp":"a"},{"pos":2216,"beta":-0.021,"cons":"PAVs","grp":"a"},{"pos":2330,"beta":-0.023,"cons":"PAVs","grp":"a"},{"pos":2328,"beta":-0.033,"cons":"Intronic","grp":"a"},{"pos":2328,"beta":-0.045,"cons":"Intronic","grp":"a"},
{"pos":2379,"beta":0.023,"cons":"Others","grp":"b"},{"pos":2354,"beta":-0.0947,"cons":"Others","grp":"b"},{"pos":2358,"beta":-0.034,"cons":"Intronic","grp":"b"},{"pos":2395,"beta":-0.024,"cons":"Intronic","grp":"b"},{"pos":2363,"beta":-0.02,"cons":"PAVs","grp":"b"},{"pos":2415,"beta":0.2125,"cons":"PAVs","grp":"b"},{"pos":2400,"beta":-0.025,"cons":"Intronic","grp":"b"},{"pos":2437,"beta":-0.021,"cons":"Intronic","grp":"b"},{"pos":2455,"beta":-0.035,"cons":"Intronic","grp":"b"},{"pos":2423,"beta":0.021,"cons":"Others","grp":"b"},{"pos":2453,"beta":0.022,"cons":"PAVs","grp":"b"},{"pos":2473,"beta":-0.0186,"cons":"PAVs","grp":"b"},
{"pos":2510,"beta":0.359,"cons":"Intronic","grp":"a"},{"pos":2509,"beta":0.07,"cons":"PAVs","grp":"a"},{"pos":2552,"beta":0.0454,"cons":"Others","grp":"a"},{"pos":2509,"beta":0.03,"cons":"Intronic","grp":"a"},{"pos":2587,"beta":0.0307,"cons":"Others","grp":"a"},{"pos":2526,"beta":0.024,"cons":"Others","grp":"a"},{"pos":2542,"beta":0.02,"cons":"Others","grp":"a"},{"pos":2520,"beta":-0.059,"cons":"Others","grp":"a"},{"pos":2520,"beta":-0.062,"cons":"Others","grp":"a"},{"pos":2520,"beta":-0.033,"cons":"Others","grp":"a"},{"pos":2520,"beta":-0.023,"cons":"Intronic","grp":"a"},{"pos":2553,"beta":-0.0165,"cons":"Others","grp":"a"},{"pos":2584,"beta":-0.0186,"cons":"Others","grp":"a"},
{"pos":2617,"beta":0.077,"cons":"Others","grp":"b"},{"pos":2696,"beta":0.077,"cons":"Others","grp":"b"},{"pos":2696,"beta":0.0307,"cons":"Others","grp":"b"},{"pos":2626,"beta":0.0175,"cons":"Intronic","grp":"b"},{"pos":2617,"beta":-0.024,"cons":"Intronic","grp":"b"},{"pos":2664,"beta":-0.021,"cons":"Intronic","grp":"b"},{"pos":2695,"beta":-0.0186,"cons":"PAVs","grp":"b"},{"pos":2626,"beta":-0.0186,"cons":"Others","grp":"b"},
{"pos":2764,"beta":0.0564,"cons":"PAVs","grp":"a"},{"pos":2777,"beta":0.0285,"cons":"Intronic","grp":"a"},{"pos":2767,"beta":0.023,"cons":"Others","grp":"a"},{"pos":2765,"beta":-0.0428,"cons":"PAVs","grp":"a"},{"pos":2779,"beta":-0.058,"cons":"PAVs","grp":"a"},{"pos":2799,"beta":-0.0493,"cons":"PAVs","grp":"a"},{"pos":2779,"beta":-0.0768,"cons":"PAVs","grp":"a"},{"pos":2738,"beta":-0.023,"cons":"Intronic","grp":"a"},{"pos":2771,"beta":-0.023,"cons":"Intronic","grp":"a"},
{"pos":2806,"beta":0.021,"cons":"PAVs","grp":"b"},{"pos":2884,"beta":0.1228,"cons":"Others","grp":"b"},{"pos":2884,"beta":0.0636,"cons":"Others","grp":"b"},{"pos":2882,"beta":0.0526,"cons":"Intronic","grp":"b"},{"pos":2884,"beta":0.037,"cons":"Others","grp":"b"},{"pos":2882,"beta":0.025,"cons":"Intronic","grp":"b"},{"pos":2884,"beta":0.045,"cons":"PTVs","grp":"b"},{"pos":2884,"beta":-0.055,"cons":"Intronic","grp":"b"},{"pos":2884,"beta":-0.078,"cons":"Others","grp":"b"},{"pos":2884,"beta":-0.0884,"cons":"Intronic","grp":"b"},{"pos":2884,"beta":-0.108,"cons":"Intronic","grp":"b"},{"pos":2884,"beta":-0.0395,"cons":"Others","grp":"b"},{"pos":2884,"beta":-0.032,"cons":"Others","grp":"b"},{"pos":2853,"beta":-0.033,"cons":"PAVs","grp":"b"},{"pos":2827,"beta":-0.024,"cons":"Intronic","grp":"b"},{"pos":2806,"beta":-0.02,"cons":"Intronic","grp":"b"},{"pos":2884,"beta":-0.024,"cons":"Intronic","grp":"b"},
{"pos":2896,"beta":0.0515,"cons":"Others","grp":"a"},{"pos":2899,"beta":0.024,"cons":"PTVs","grp":"a"},{"pos":2926,"beta":0.024,"cons":"PTVs","grp":"a"},{"pos":2945,"beta":0.0336,"cons":"Intronic","grp":"a"},{"pos":2969,"beta":0.037,"cons":"PAVs","grp":"a"},{"pos":2966,"beta":0.0274,"cons":"Intronic","grp":"a"},{"pos":2905,"beta":-0.079,"cons":"PAVs","grp":"a"},{"pos":2946,"beta":-0.0724,"cons":"PTVs","grp":"a"},{"pos":2928,"beta":-0.035,"cons":"PAVs","grp":"a"},{"pos":2945,"beta":-0.035,"cons":"PAVs","grp":"a"},{"pos":2969,"beta":-0.0274,"cons":"PAVs","grp":"a"},{"pos":2913,"beta":-0.0274,"cons":"Intronic","grp":"a"},{"pos":2943,"beta":-0.0274,"cons":"Intronic","grp":"a"},{"pos":2924,"beta":-0.023,"cons":"Others","grp":"a"},{"pos":2894,"beta":-0.0186,"cons":"PAVs","grp":"a"},
{"pos":2989,"beta":0.0165,"cons":"Intronic","grp":"b"},{"pos":3031,"beta":0.02,"cons":"Others","grp":"b"},{"pos":3041,"beta":0.073,"cons":"UTR","grp":"b"},{"pos":2989,"beta":-0.022,"cons":"PAVs","grp":"b"},{"pos":3029,"beta":-0.029,"cons":"Intronic","grp":"b"},{"pos":2972,"beta":-0.0165,"cons":"Intronic","grp":"b"},
{"pos":3090,"beta":0.0684,"cons":"PAVs","grp":"a"},{"pos":3064,"beta":0.058,"cons":"Others","grp":"a"},{"pos":3077,"beta":0.035,"cons":"Others","grp":"a"},{"pos":3095,"beta":0.0417,"cons":"PAVs","grp":"a"},{"pos":3064,"beta":0.03,"cons":"PAVs","grp":"a"},{"pos":3096,"beta":0.03,"cons":"PAVs","grp":"a"},{"pos":3099,"beta":-0.101,"cons":"PAVs","grp":"a"},{"pos":3091,"beta":-0.035,"cons":"Intronic","grp":"a"},{"pos":3091,"beta":-0.026,"cons":"Intronic","grp":"a"},{"pos":3064,"beta":-0.035,"cons":"PAVs","grp":"a"},{"pos":3073,"beta":-0.025,"cons":"Intronic","grp":"a"},
{"pos":3135,"beta":0.087,"cons":"Intronic","grp":"b"},{"pos":3135,"beta":0.048,"cons":"PAVs","grp":"b"},{"pos":3152,"beta":0.047,"cons":"Others","grp":"b"},{"pos":3150,"beta":0.033,"cons":"Intronic","grp":"b"},{"pos":3146,"beta":0.025,"cons":"Intronic","grp":"b"},{"pos":3135,"beta":0.0186,"cons":"Intronic","grp":"b"},{"pos":3152,"beta":-0.065,"cons":"Others","grp":"b"},{"pos":3152,"beta":-0.082,"cons":"Others","grp":"b"},{"pos":3141,"beta":-0.0285,"cons":"Others","grp":"b"},{"pos":3161,"beta":-0.0186,"cons":"PAVs","grp":"b"},
{"pos":3205,"beta":0.03,"cons":"Others","grp":"a"},{"pos":3215,"beta":0.021,"cons":"PAVs","grp":"a"},{"pos":3181,"beta":-0.0186,"cons":"Intronic","grp":"a"},{"pos":3204,"beta":-0.021,"cons":"Intronic","grp":"a"},
{"pos":3231,"beta":0.031,"cons":"PAVs","grp":"b"},{"pos":3257,"beta":0.031,"cons":"PAVs","grp":"b"},{"pos":3242,"beta":-0.02,"cons":"Others","grp":"b"},{"pos":3231,"beta":-0.653,"cons":"PAVs","grp":"b"},
{"pos":3280,"beta":-0.0165,"cons":"Others","grp":"a"},{"pos":3409,"beta":-0.021,"cons":"Others","grp":"a"},{"pos":3334,"beta":-0.015,"cons":"Intronic","grp":"a"},{"pos":3303,"beta":0.0175,"cons":"Intronic","grp":"a"},{"pos":3353,"beta":0.0186,"cons":"Intronic","grp":"a"},{"pos":3410,"beta":0.0165,"cons":"Intronic","grp":"a"}],
"segs":[{"pos":2416,"beta":0.2125,"pos2":2475,"beta2":0.2368},{"pos":2882,"beta":0.123,"pos2":2822,"beta2":0.1447},{"pos":3136,"beta":0.0868,"pos2":3179,"beta2":0.1039},{"pos":2882,"beta":-0.1092,"pos2":2838,"beta2":-0.1276},{"pos":2354,"beta":-0.0947,"pos2":2273,"beta2":-0.1664}],
"labels":[{"label":"rs79490353 (FLT3)","pos":2611,"beta":0.3875},{"label":"rs34856868 (BTBD8)","pos":785,"beta":0.2882},{"label":"rs2228467 (ACKR2)","pos":1162,"beta":0.2395},{"label":"rs1449263 (ITGA4)","pos":753,"beta":0.1914},{"label":"rs1800973 (LYZ)","pos":2512,"beta":0.2487},{"label":"rs10980800 (RP11-202G18.1)","pos":1926,"beta":0.1730},{"label":"rs76121846 (RP11-542M13.3)","pos":2640,"beta":0.1599},{"label":"rs12480732 (RP11-410N8.4)","pos":3224,"beta":0.1191},{"label":"rs3732378 (CX3CR1)","pos":861,"beta":0.1171},{"label":"rs6772849","pos":1187,"beta":0.0691},{"label":"rs1799864 (CCR2)","pos":895,"beta":-0.1092},{"label":"rs62447197 (IKZF1)","pos":1945,"beta":-0.1349},{"label":"rs4301834 (RP1-102E24.8)","pos":2271,"beta":-0.1862},{"label":"rs11646550 (IRF8)","pos":2790,"beta":-0.1441},{"label":"rs34436714 (NLRP12)","pos":3290,"beta":-0.1243},{"label":"rs140221307 (IL17RA)","pos":3130,"beta":-0.6816}]
},
"layer":[
{"data":{"name":"vgrid"},"mark":{"type":"rule","color":"#EBEBEB","strokeWidth":3},"encoding":{"x":{"field":"pos","type":"quantitative","scale":{"domain":[280,3570],"nice":false,"zero":false}}}},
{"data":{"name":"hgrid"},"mark":{"type":"rule","color":"#EBEBEB"},"encoding":{"y":{"field":"beta","type":"quantitative","scale":{"domain":[-0.7066,0.4086],"nice":false}},"strokeWidth":{"field":"kind","type":"nominal","scale":{"domain":["major","minor"],"range":[6,3]},"legend":null}}},
{"data":{"values":[{"beta":0}]},"mark":{"type":"rule","color":"black","strokeWidth":3.5},"encoding":{"y":{"field":"beta","type":"quantitative","scale":{"domain":[-0.7066,0.4086],"nice":false}}}},
{"data":{"name":"band"},"mark":{"type":"area","opacity":1},"encoding":{"x":{"field":"pos","type":"quantitative","scale":{"domain":[280,3570],"nice":false,"zero":false}},"y":{"field":"hi","type":"quantitative","scale":{"domain":[-0.7066,0.4086],"nice":false}},"y2":{"field":"lo"},"detail":{"field":"seg"},"fill":{"field":"grp","type":"nominal","scale":{"domain":["a","b"],"range":["#F8766D","#00BFC4"]},"legend":null}}},
{"data":{"name":"edge"},"transform":[{"fold":["up","dn"],"as":["side","beta"]}],"mark":{"type":"point","filled":true,"opacity":1,"size":729,"strokeWidth":3.5},"encoding":{"x":{"field":"pos","type":"quantitative","scale":{"domain":[280,3570],"nice":false,"zero":false}},"y":{"field":"beta","type":"quantitative","scale":{"domain":[-0.7066,0.4086],"nice":false}},"fill":{"field":"grp","type":"nominal","scale":{"domain":["a","b"],"range":["#F8766D","#00BFC4"]},"legend":null},"stroke":{"field":"grp","type":"nominal","scale":{"domain":["a","b"],"range":["#F8766D","#00BFC4"]},"legend":null},"shape":{"field":"cons","type":"nominal","scale":{"domain":["PTVs","PCVs","UTR","PAVs","Intronic","Others"],"range":["M.62,0A.62,.62,0,1,1,-.62,0A.62,.62,0,1,1,.62,0Z","M-.62,-.62L.62,-.62L.62,.62L-.62,.62Z","M-.68,-.68L.68,-.68L.68,.68L-.68,.68ZM-.68,-.68L-.68,.68L.68,.68L.68,-.68ZM-.68,-.68L.68,.68M.68,-.68L-.68,.68","M0,-.66L.76,.66L-.76,.66Z","M-1,0L1,0M0,-1L0,1","M-.95,0L.95,0M0,-1L0,1M-.7,-.7L.7,.7M.7,-.7L-.7,.7"]},
"legend":{"orient":"none","legendX":953,"legendY":1961,"columns":3,"direction":"horizontal","title":"Consequence","titleOrient":"left","titleFont":"DejaVu Sans","titleFontSize":66.8,"titleFontWeight":"normal","titleColor":"black","titleLimit":1000,"titleAnchor":"middle","titlePadding":44,"labelFont":"DejaVu Sans","labelFontSize":54,"labelColor":"black","labelLimit":1000,"labelOffset":42,"symbolSize":729,"symbolStrokeWidth":3.5,"symbolFillColor":"black","symbolStrokeColor":"black","columnPadding":41,"rowPadding":18,"gridAlign":"each","encode":{"symbols":{"update":{"fill":{"value":"black"},"stroke":{"value":"black"},"strokeWidth":{"value":3.5},"opacity":{"value":1}}}}}}}},
{"data":{"name":"pts"},"mark":{"type":"point","filled":true,"opacity":1,"size":729,"strokeWidth":3.5},"encoding":{
"x":{"field":"pos","type":"quantitative","scale":{"domain":[280,3570],"nice":false,"zero":false},"axis":{"title":"Genomic position (chromosome)","values":[549,792,1008,1201,1384,1557,1720,1869,2011,2149,2415,2654,2845,3008,3136,3341],"labelExpr":"{'549':'1','792':'2','1008':'3','1201':'4','1384':'5','1557':'6','1720':'7','1869':'8','2011':'9','2149':'10','2415':'12','2654':'14','2845':'16','3008':'18','3136':'20','3341':'X'}[''+datum.value]","ticks":false,"domain":false,"grid":false,"labelFont":"DejaVu Sans","labelFontSize":56,"labelColor":"#4D4D4D","labelPadding":24,"labelOverlap":false,"labelFlush":false,"titleFont":"DejaVu Sans","titleFontSize":66.8,"titleFontWeight":"normal","titleColor":"black","titlePadding":10}},
"y":{"field":"beta","type":"quantitative","scale":{"domain":[-0.7066,0.4086],"nice":false},"axis":{"title":"PGS coefficient (BETA)","values":[0.25,0,-0.25,-0.5],"labelExpr":"{'0.25':'0.25','0':'0.00','-0.25':'-0.25','-0.5':'-0.50'}[''+datum.value]","tickSize":17,"tickWidth":6,"tickColor":"#333333","domain":false,"grid":false,"labelFont":"DejaVu Sans","labelFontSize":56,"labelColor":"#4D4D4D","labelPadding":8,"labelOverlap":false,"labelFlush":false,"titleFont":"DejaVu Sans","titleFontSize":66.8,"titleFontWeight":"normal","titleColor":"black","titleX":-181}},
"fill":{"field":"grp","type":"nominal","scale":{"domain":["a","b"],"range":["#F8766D","#00BFC4"]},"legend":null},
"stroke":{"field":"grp","type":"nominal","scale":{"domain":["a","b"],"range":["#F8766D","#00BFC4"]},"legend":null},
"shape":{"field":"cons","type":"nominal","scale":{"domain":["PTVs","PCVs","UTR","PAVs","Intronic","Others"],"range":["M.62,0A.62,.62,0,1,1,-.62,0A.62,.62,0,1,1,.62,0Z","M-.62,-.62L.62,-.62L.62,.62L-.62,.62Z","M-.68,-.68L.68,-.68L.68,.68L-.68,.68ZM-.68,-.68L-.68,.68L.68,.68L.68,-.68ZM-.68,-.68L.68,.68M.68,-.68L-.68,.68","M0,-.66L.76,.66L-.76,.66Z","M-1,0L1,0M0,-1L0,1","M-.95,0L.95,0M0,-1L0,1M-.7,-.7L.7,.7M.7,-.7L-.7,.7"]},
"legend":{"orient":"none","legendX":953,"legendY":1961,"columns":3,"direction":"horizontal","title":"Consequence","titleOrient":"left","titleFont":"DejaVu Sans","titleFontSize":66.8,"titleFontWeight":"normal","titleColor":"black","titleLimit":1000,"titleAnchor":"middle","titlePadding":44,"labelFont":"DejaVu Sans","labelFontSize":54,"labelColor":"black","labelLimit":1000,"labelOffset":42,"symbolSize":729,"symbolStrokeWidth":3.5,"symbolFillColor":"black","symbolStrokeColor":"black","columnPadding":41,"rowPadding":18,"gridAlign":"each","encode":{"symbols":{"update":{"fill":{"value":"black"},"stroke":{"value":"black"},"strokeWidth":{"value":3.5},"opacity":{"value":1}}}}}}
}},
{"data":{"name":"segs"},"mark":{"type":"rule","color":"black","strokeWidth":3.5},"encoding":{"x":{"field":"pos","type":"quantitative","scale":{"domain":[280,3570],"nice":false,"zero":false}},"x2":{"field":"pos2"},"y":{"field":"beta","type":"quantitative","scale":{"domain":[-0.7066,0.4086],"nice":false}},"y2":{"field":"beta2"}}},
{"data":{"name":"labels"},"mark":{"type":"text","font":"DejaVu Sans","fontSize":46,"color":"black","align":"center","baseline":"middle","dy":2},"encoding":{"x":{"field":"pos","type":"quantitative","scale":{"domain":[280,3570],"nice":false,"zero":false}},"y":{"field":"beta","type":"quantitative","scale":{"domain":[-0.7066,0.4086],"nice":false}},"text":{"field":"label"}}}
]}
